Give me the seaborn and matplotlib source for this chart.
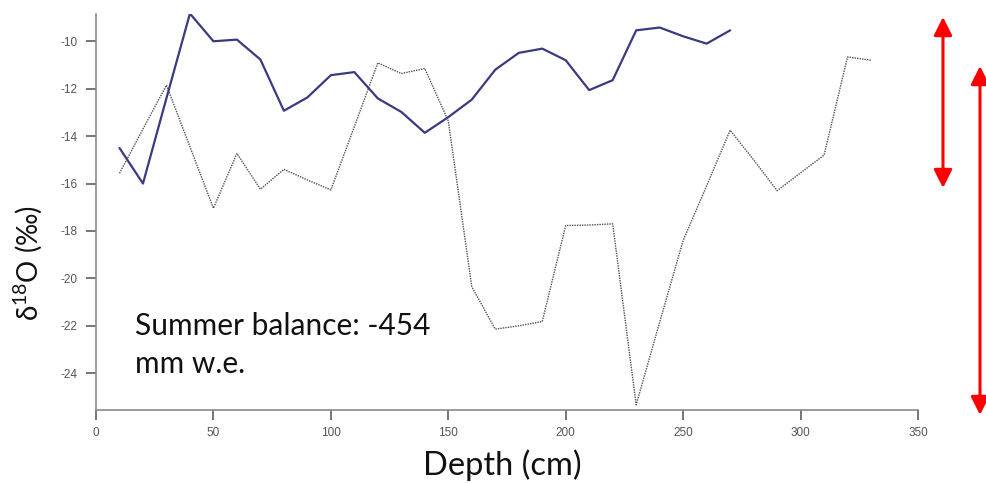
import matplotlib
matplotlib.use("Agg")
import matplotlib.pyplot as plt
import seaborn as sns
import pandas as pd
from matplotlib.patches import FancyArrowPatch

# Depth profiles of delta-18O
depth_a = [10, 20, 30, 40, 50, 60, 70, 80, 90, 100, 110, 120, 130, 140, 150,
           160, 170, 180, 190, 200, 210, 220, 230, 240, 250, 260, 270]
d18o_a = [-14.5, -16.0, -12.4, -8.83, -10.0, -9.93, -10.77, -12.93, -12.37, -11.43,
          -11.3, -12.41, -12.98, -13.86, -13.2, -12.46, -11.2, -10.49, -10.31, -10.8,
          -12.06, -11.64, -9.54, -9.42, -9.79, -10.1, -9.54]

depth_b = [10, 20, 30, 40, 50, 60, 70, 80, 90, 100, 110, 120, 130, 140, 150, 160,
           170, 180, 190, 200, 210, 220, 230, 240, 250, 260, 270, 280, 290, 300,
           310, 320, 330]
d18o_b = [-15.57, -13.7, -11.85, -14.45, -17.04, -14.73, -16.24, -15.4, -15.85,
          -16.27, -13.6, -10.91, -11.36, -11.15, -13.36, -20.35, -22.14, -22.0,
          -21.82, -17.77, -17.75, -17.7, -25.33, -21.85, -18.4, -16.1, -13.75,
          -15.0, -16.3, -15.55, -14.8, -10.66, -10.8]

x_ticks = [0, 50, 100, 150, 200, 250, 300, 350]
y_ticks = [-24, -22, -20, -18, -16, -14, -12, -10]
annotation = "Summer balance: -454\nmm w.e."

sns.set_theme(style="white")
plt.rcParams["font.family"] = ["Lato", "DejaVu Sans"]
plt.rcParams["axes.unicode_minus"] = False
plt.rcParams["mathtext.fontset"] = "custom"
plt.rcParams["mathtext.rm"] = "Lato"
plt.rcParams["mathtext.it"] = "Lato:italic"
plt.rcParams["mathtext.bf"] = "Lato:bold"

W, H = 986, 484
fig = plt.figure(figsize=(W / 100, H / 100), dpi=100)
ax = fig.add_axes([96 / W, 1 - 410 / H, (918 - 96) / W, (410 - 14) / H])

df_a = pd.DataFrame({"depth": depth_a, "d18o": d18o_a})
df_b = pd.DataFrame({"depth": depth_b, "d18o": d18o_b})

sns.lineplot(data=df_b, x="depth", y="d18o", ax=ax, color="#3c3c3c",
             linewidth=1.0, linestyle=(0, (1, 0.8)), alpha=0.9)
sns.lineplot(data=df_a, x="depth", y="d18o", ax=ax, color="#3a3a82",
             linewidth=1.6)

ax.set_xlim(0, 350)
ax.set_ylim(-25.55, -8.85)
ax.set_xticks(x_ticks)
ax.set_yticks(y_ticks)
ax.set_xlabel("")
ax.set_ylabel("")

for side in ("top", "right"):
    ax.spines[side].set_visible(False)
for side in ("left", "bottom"):
    ax.spines[side].set_color("#8a8a8a")
    ax.spines[side].set_linewidth(1.2)

ax.tick_params(axis="both", which="major", direction="out", length=7.5, width=1.3,
               bottom=True, left=True, color="#6a6a6a", labelcolor="#555555",
               labelsize=8.5)
ax.tick_params(axis="y", pad=6)
ax.tick_params(axis="x", pad=5)
for lab in ax.get_xticklabels() + ax.get_yticklabels():
    lab.set_family(["Liberation Sans", "DejaVu Sans"])

ax.text(135 / W, 1 - 373 / H, annotation, transform=fig.transFigure,
        fontsize=21.5, color="#111111", linespacing=1.42, va="baseline")

fig.text(502 / W, 1 - 465 / H, "Depth (cm)", ha="center", va="center",
         fontsize=23.5, color="#111111")
fig.text(28 / W, 1 - 263 / H, r"δ$\mathregular{^{18}}$O (‰)", ha="center",
         va="center", rotation=90, fontsize=20, color="#111111")

# Red range arrows on the right side
for x_px, y_top, y_bot in [(943, 17, 188), (980, 66, 415)]:
    arrow = FancyArrowPatch((x_px / W, 1 - y_top / H), (x_px / W, 1 - y_bot / H),
                            transform=fig.transFigure,
                            arrowstyle="<|-|>,head_length=11,head_width=5.5",
                            mutation_scale=1, color="#ff0000", linewidth=2.2,
                            shrinkA=0, shrinkB=0)
    fig.add_artist(arrow)

fig.savefig("out.png", dpi=100, facecolor="white")
